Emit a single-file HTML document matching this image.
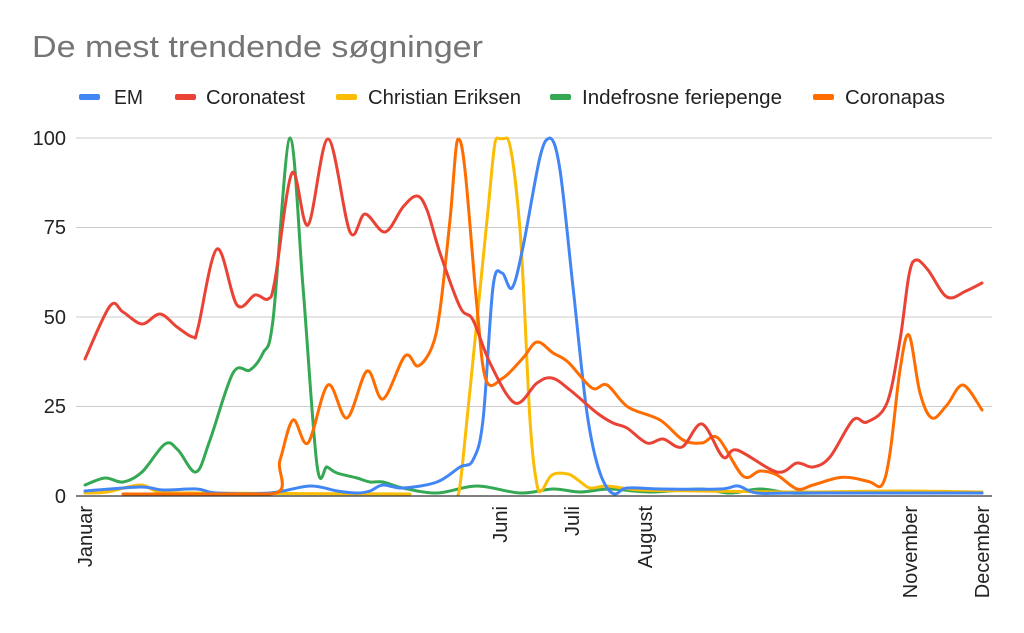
<!DOCTYPE html>
<html><head><meta charset="utf-8"><style>
html,body{margin:0;padding:0;background:#fff;width:1024px;height:633px;overflow:hidden}
svg{display:block;font-family:"Liberation Sans",Arial,sans-serif}
</style></head><body>
<svg id="s" width="1024" height="633" viewBox="0 0 1024 633">
<text x="32" y="57" font-size="31" fill="#757575" textLength="451" lengthAdjust="spacingAndGlyphs">De mest trendende søgninger</text>
<g font-size="20" fill="#222">
<rect x="79" y="94" width="21" height="6" rx="2" fill="#4285f4"/><text x="114" y="104" textLength="29" lengthAdjust="spacingAndGlyphs">EM</text>
<rect x="175" y="94" width="21" height="6" rx="2" fill="#ea4335"/><text x="206" y="104" textLength="99" lengthAdjust="spacingAndGlyphs">Coronatest</text>
<rect x="336" y="94" width="21" height="6" rx="2" fill="#fbbc04"/><text x="368" y="104" textLength="153" lengthAdjust="spacingAndGlyphs">Christian Eriksen</text>
<rect x="550" y="94" width="21" height="6" rx="2" fill="#34a853"/><text x="582" y="104" textLength="200" lengthAdjust="spacingAndGlyphs">Indefrosne feriepenge</text>
<rect x="813" y="94" width="21" height="6" rx="2" fill="#ff6d01"/><text x="845" y="104" textLength="100" lengthAdjust="spacingAndGlyphs">Coronapas</text>
</g>
<g stroke="#ccc" stroke-width="1">
<line x1="76" y1="138" x2="992" y2="138"/><line x1="76" y1="227.5" x2="992" y2="227.5"/>
<line x1="76" y1="317" x2="992" y2="317"/><line x1="76" y1="406.5" x2="992" y2="406.5"/>
</g>
<g font-size="20" fill="#222" text-anchor="end">
<text x="66" y="145">100</text><text x="66" y="234">75</text><text x="66" y="324">50</text><text x="66" y="413">25</text><text x="66" y="503">0</text>
</g>
<g font-size="20" fill="#222" text-anchor="end">
<text transform="translate(92,506) rotate(-90)">Januar</text>
<text transform="translate(507,506) rotate(-90)">Juni</text>
<text transform="translate(579,506) rotate(-90)">Juli</text>
<text transform="translate(652,506) rotate(-90)">August</text>
<text transform="translate(917,506) rotate(-90)">November</text>
<text transform="translate(989,506) rotate(-90)">December</text>
</g>
<g id="lines" fill="none" stroke-width="3" stroke-linejoin="round" stroke-linecap="round"></g>
<line x1="76" y1="496" x2="992" y2="496" stroke="#333" stroke-width="1.2"/>
</svg>
<script>
var S={
"#34a853":[[85,485],[105,478],[123,482],[142,472],[165,444],[178,450],[196,472],[210,440],[233,373],[250,370],[263,353],[273,320],[290,138],[303,287],[317,465],[327,467],[337,473],[357,478],[370,482],[383,482],[403,488],[437,493],[477,486],[520,493],[553,489],[580,492],[610,489],[650,492],[700,489],[730,493],[760,489],[790,493],[830,493],[982,493]],
"#fbbc04":[[85,493],[107,492],[140,485],[160,492],[200,493],[410,494]],
"#fbbc04b":[[458,495],[470,390],[487,220],[497,138],[507,138],[520,230],[530,420],[537,485],[542,490],[552,475],[568,474],[578,480],[590,488],[607,486],[640,490],[700,491],[800,492],[900,491],[982,492]],
"#4285f4":[[85,491],[140,487],[163,490],[197,489],[217,493],[270,493],[310,486],[337,491],[357,493],[370,491],[383,485],[403,488],[437,482],[460,467],[473,460],[483,420],[493,287],[502,273],[512,288],[523,247],[540,157],[550,138],[560,170],[573,287],[587,413],[600,473],[615,494],[627,488],[660,489],[720,489],[738,486],[757,493],[800,493],[982,493]],
"#ff6d01":[[123,494],[268,494],[280,460],[293,420],[308,443],[328,385],[347,418],[367,371],[383,399],[405,356],[418,366],[432,347],[440,310],[450,220],[458,139],[465,170],[477,307],[486,380],[503,378],[523,358],[537,342],[553,353],[568,362],[592,388],[607,385],[628,407],[660,420],[683,440],[702,443],[718,438],[743,476],[760,471],[777,475],[797,489],[813,485],[837,478],[853,478],[870,482],[882,485],[890,453],[900,370],[909,335],[920,393],[932,418],[947,405],[963,385],[982,410]],
"#ea4335":[[85,359],[110,306],[123,312],[142,324],[160,314],[177,327],[193,337],[198,328],[217,249],[237,305],[255,295],[268,299],[275,280],[292,173],[308,225],[328,139],[350,232],[365,214],[385,232],[403,207],[417,196],[427,210],[440,253],[460,307],[473,320],[490,363],[515,403],[537,383],[552,378],[570,390],[597,413],[613,423],[627,428],[647,443],[663,439],[682,447],[702,424],[723,457],[737,450],[777,472],[797,463],[813,467],[830,457],[853,420],[867,422],[887,403],[900,340],[909,275],[916,260],[928,270],[947,297],[966,291],[982,283]]
};
function cl(y){return Math.max(139,Math.min(495,y));}
function path(p){var d="M"+p[0][0]+","+p[0][1];for(var i=0;i<p.length-1;i++){var a=p[i-1]||p[i],b=p[i],c=p[i+1],e=p[i+2]||c;var t=6;
var y1=b[1]+(c[1]-a[1])/t,y2=c[1]-(e[1]-b[1])/t;
if(b[1]<=139||b[1]>=494)y1=b[1];if(c[1]<=139||c[1]>=494)y2=c[1];
d+=" C"+(b[0]+(c[0]-a[0])/t)+","+cl(y1)+" "+(c[0]-(e[0]-b[0])/t)+","+cl(y2)+" "+c[0]+","+c[1];}return d;}
var g=document.getElementById("lines");
for(var k in S){var el=document.createElementNS("http://www.w3.org/2000/svg","path");el.setAttribute("d",path(S[k]));el.setAttribute("stroke",k.slice(0,7));g.appendChild(el);}
</script>
</body></html>
